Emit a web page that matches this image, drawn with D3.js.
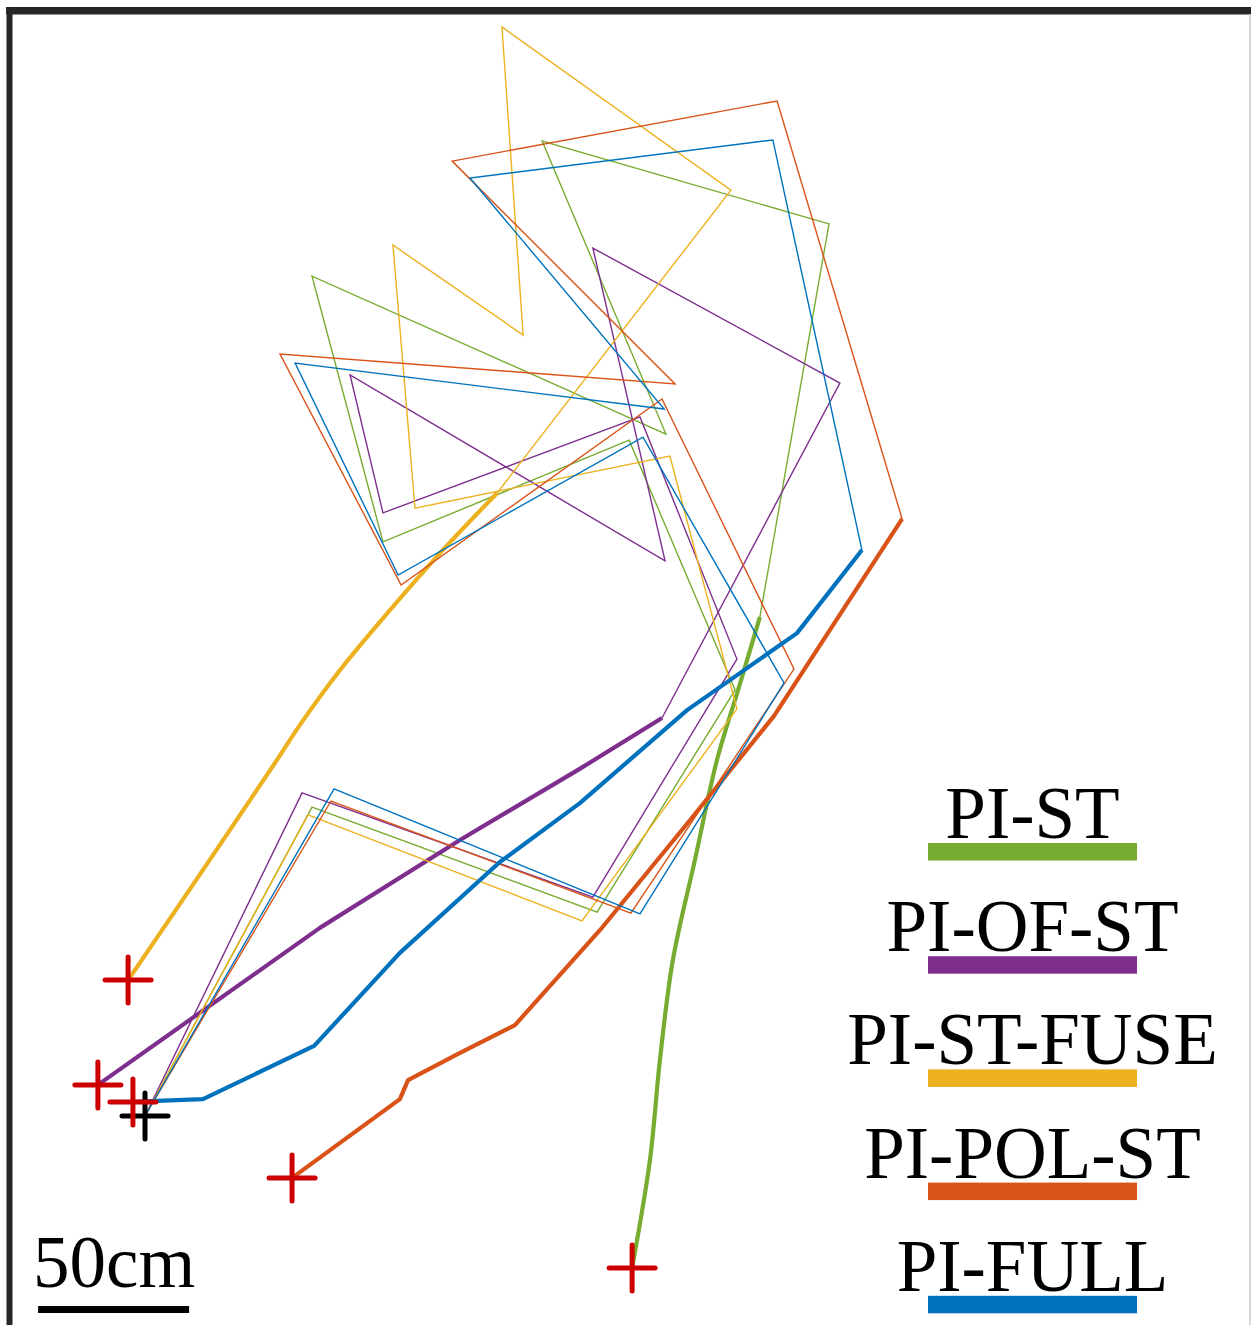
<!DOCTYPE html>
<html>
<head>
<meta charset="utf-8">
<script src="https://cdn.jsdelivr.net/npm/d3@7"></script>
<style>
  body { margin: 0; background: #fff; }
  svg { display: block; }
</style>
</head>
<body>
<div id="chart"></div>
<script>
// trajectories in cm, origin at the start point (black cross)
const seriesNames = ["PI-ST", "PI-OF-ST", "PI-ST-FUSE", "PI-POL-ST", "PI-FULL"];
const seriesColors = ["#77AC30", "#7E2F8E", "#EDB120", "#D95319", "#0072BD"];

const startPoint = [0, 0];

// thin part of each run
const thinPiSt = [[0,0],[55.3,102.3],[149.7,67.5],[195.4,141.1],[160.3,223.8],[78.8,190.1],[55.3,278.1],[172.5,225.8],[131.5,322.8],[226.5,295.4],[203.6,165.2]];
const thinPiOfSt = [[0,0],[52.0,107.0],[148.3,72.5],[196.0,151.3],[163.9,231.5],[78.8,199.7],[67.9,245.4],[172.2,183.8],[148.3,287.4],[230.1,242.7],[171.2,131.8]];
const thinPiStFuse = [[0,0],[54.0,99.7],[144.7,64.6],[196.0,134.8],[173.8,218.5],[89.4,201.3],[82.1,288.4],[125.2,258.6],[118.2,360.6],[194.0,306.6],[116.6,206.3]];
const thinPiPolSt = [[0,0],[61.6,104.3],[160.9,67.2],[214.9,148.0],[171.2,237.4],[84.8,175.8],[44.7,252.3],[175.5,242.4],[101.7,316.2],[209.3,336.1],[250.7,197.7]];
const thinPiFull = [[0,0],[62.6,108.3],[163.9,66.9],[211.6,143.4],[164.9,224.8],[83.8,179.1],[49.7,249.3],[171.9,234.1],[107.6,310.6],[207.9,323.2],[237.4,187.4]];

// thick part of each run, ending at the red cross
const thickPiSt = [[203.6,165.2],[196.4,141.1],[189.4,117.9],[182.1,84.8],[174.8,51.7],[170.5,18.5],[167.2,-14.6],[161.3,-50.3]];
const thickPiOfSt = [[171.2,131.8],[143.4,114.6],[104.3,91.4],[57.9,62.3],[-15.6,10.3]];
const thickPiStFuse = [[116.6,206.3],[97.7,186.4],[81.1,167.5],[64.6,147.7],[51.3,129.5],[43.7,117.9],[19.2,81.5],[-5.6,45.0]];
const thickPiPolSt = [[250.7,197.7],[208.3,132.5],[180.5,98.0],[150.7,61.6],[122.5,30.1],[104.3,20.9],[87.1,11.9],[84.4,5.6],[48.7,-20.5]];
const thickPiFull = [[237.4,187.4],[215.9,159.9],[179.5,134.4],[144.0,103.6],[117.5,84.1],[84.4,54.0],[56.0,23.2],[19.2,5.6],[4.0,5.0],[-4.0,4.6]];

const thinRuns = [thinPiSt, thinPiOfSt, thinPiStFuse, thinPiPolSt, thinPiFull];
const thickRuns = [thickPiSt, thickPiOfSt, thickPiStFuse, thickPiPolSt, thickPiFull];

const scaleBarCm = 50;
const scaleBarLabel = "50cm";

const width = 1251,
    height = 1325,
    pxPerCm = 151 / 50;

const x = d3.scaleLinear()
    .domain([0, 50])
    .range([145, 145 + 50 * pxPerCm]);

const y = d3.scaleLinear()
    .domain([0, 50])
    .range([1116, 1116 - 50 * pxPerCm]);

const svg = d3.select("#chart").append("svg")
    .attr("width", width)
    .attr("height", height)
    .style("background", "#fff");

// frame
svg.append("rect")
    .attr("x", 6).attr("y", 7)
    .attr("width", width - 6).attr("height", 7.5)
    .attr("fill", "#262626");
svg.append("rect")
    .attr("x", 6.5).attr("y", 7)
    .attr("width", 6).attr("height", height - 7)
    .attr("fill", "#262626");
svg.append("line")
    .attr("x1", width - 1).attr("x2", width - 1)
    .attr("y1", 14).attr("y2", height)
    .attr("stroke", "#c8c8c8")
    .attr("stroke-width", 1.5);

const line = d3.line()
    .x(function(d) { return x(d[0]); })
    .y(function(d) { return y(d[1]); });

// the smoother runs (green, yellow) bend gently, the others have corners
const smoothLine = d3.line()
    .x(function(d) { return x(d[0]); })
    .y(function(d) { return y(d[1]); })
    .curve(d3.curveCatmullRom.alpha(0.5));
const smoothThick = [true, false, true, false, false];

const runs = svg.append("g");

seriesNames.forEach(function(name, i) {
  runs.append("path")
      .attr("d", line(thinRuns[i]))
      .attr("fill", "none")
      .attr("stroke", seriesColors[i])
      .attr("stroke-width", 1.4)
      .attr("stroke-linejoin", "miter");
  runs.append("path")
      .attr("d", (smoothThick[i] ? smoothLine : line)(thickRuns[i]))
      .attr("fill", "none")
      .attr("stroke", seriesColors[i])
      .attr("stroke-width", 4.2)
      .attr("stroke-linejoin", "round");
});

// crosses: start (black) and ends (red)
function cross(p, color) {
  const cx = x(p[0]), cy = y(p[1]), r = 23;
  const g = svg.append("g")
      .attr("stroke", color)
      .attr("stroke-width", 5)
      .attr("stroke-linecap", "round");
  g.append("line").attr("x1", cx - r).attr("x2", cx + r).attr("y1", cy).attr("y2", cy);
  g.append("line").attr("x1", cx).attr("x2", cx).attr("y1", cy - r).attr("y2", cy + r);
}

cross(startPoint, "#000");
thickRuns.forEach(function(run) {
  cross(run[run.length - 1], "#cc0000");
});

// scale bar
const barStart = -35.4, barY = -64.1;
svg.append("line")
    .attr("x1", x(barStart))
    .attr("x2", x(barStart + scaleBarCm))
    .attr("y1", y(barY)).attr("y2", y(barY))
    .attr("stroke", "#000")
    .attr("stroke-width", 7);
svg.append("text")
    .attr("x", 33)
    .attr("y", 1287)
    .attr("font-family", "'Liberation Serif', 'Times New Roman', serif")
    .attr("font-size", 73)
    .attr("fill", "#000")
    .text(scaleBarLabel);

// legend
const legend = svg.append("g");
const legendCx = 1032.5, legendTop = 843, legendStep = 113.2;

seriesNames.forEach(function(name, i) {
  const by = legendTop + i * legendStep;
  legend.append("text")
      .attr("x", legendCx)
      .attr("y", by - 5)
      .attr("text-anchor", "middle")
      .attr("font-family", "'Liberation Serif', 'Times New Roman', serif")
      .attr("font-size", 73)
      .attr("fill", "#000")
      .text(name);
  legend.append("rect")
      .attr("x", 928)
      .attr("y", by)
      .attr("width", 209)
      .attr("height", 17.5)
      .attr("fill", seriesColors[i]);
});
</script>
</body>
</html>
